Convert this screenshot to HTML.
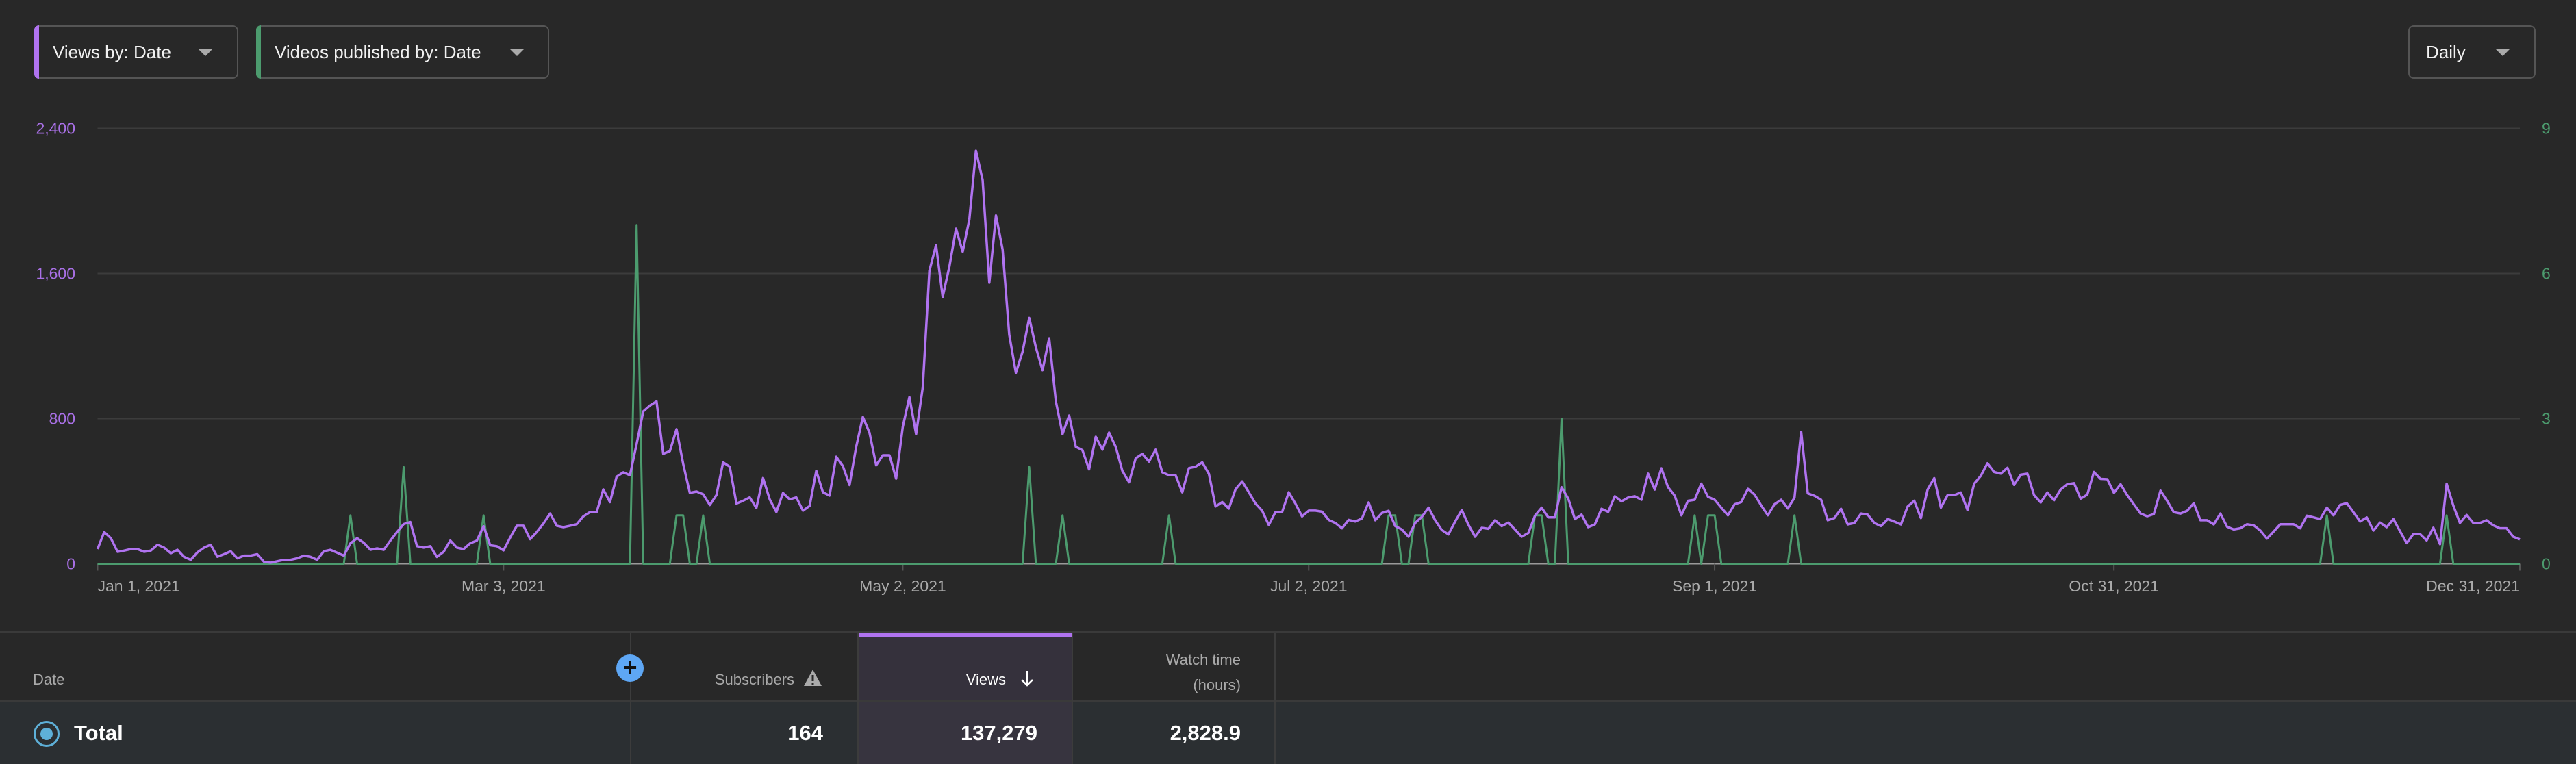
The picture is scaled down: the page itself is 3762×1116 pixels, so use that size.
<!DOCTYPE html>
<html><head><meta charset="utf-8"><style>
html,body{margin:0;padding:0;background:#282828;width:3762px;height:1116px;overflow:hidden;font-family:"Liberation Sans",sans-serif;}
.dd{position:absolute;top:37px;height:78px;border:2px solid #555;border-radius:8px;box-sizing:border-box;color:#f1f1f1;font-size:26px;line-height:74px;}
.dd .bar{position:absolute;left:-2px;top:-2px;bottom:-2px;width:7px;border-radius:8px 0 0 8px;}
.arr{position:absolute;top:32px;width:0;height:0;border-left:11px solid transparent;border-right:11px solid transparent;border-top:11px solid #aaa;}
.cell{position:absolute;box-sizing:border-box;}
.hd{color:#aaa;font-size:22px;position:absolute;}
.tv{color:#fff;font-size:31px;font-weight:bold;position:absolute;top:1053px;}
</style></head><body>
<div class="dd" style="left:50px;width:298px;"><div class="bar" style="background:#b073f0"></div><span style="position:absolute;left:25px">Views by: Date</span><div class="arr" style="left:237px"></div></div>
<div class="dd" style="left:374px;width:428px;"><div class="bar" style="background:#4c9b6e"></div><span style="position:absolute;left:25px">Videos published by: Date</span><div class="arr" style="left:368px"></div></div>
<div class="dd" style="left:3517px;width:186px;"><span style="position:absolute;left:24px">Daily</span><div class="arr" style="left:125px"></div></div>

<svg id="chart" width="3762" height="900" style="position:absolute;left:0;top:0" xmlns="http://www.w3.org/2000/svg"></svg>

<div class="cell" style="left:0;top:922px;width:3762px;height:3px;background:#3a3a3a"></div>
<div class="cell" style="left:1252px;top:925px;width:313px;height:98px;background:#35313c"></div>
<div class="cell" style="left:1252px;top:925px;width:313px;height:5px;background:#b073f0"></div>
<div class="cell" style="left:0;top:1022px;width:3762px;height:3px;background:#3a3a3a"></div>
<div class="cell" style="left:0;top:1025px;width:3762px;height:91px;background:#2b2f32"></div>
<div class="cell" style="left:1252px;top:1025px;width:313px;height:91px;background:#37343f"></div>
<div class="cell" style="left:920px;top:925px;width:2px;height:191px;background:#3c3c3c"></div>
<div class="cell" style="left:1252px;top:925px;width:2px;height:191px;background:#3c3c3c"></div>
<div class="cell" style="left:1565px;top:925px;width:2px;height:191px;background:#3c3c3c"></div>
<div class="cell" style="left:1861px;top:925px;width:2px;height:191px;background:#3c3c3c"></div>
<div class="hd" style="left:48px;top:980px">Date</div>
<div class="cell" style="left:900px;top:956px;width:40px;height:40px;border-radius:50%;background:#5ea7f5;color:#111;font-size:36px;font-weight:bold;line-height:38px;text-align:center">+</div>
<div class="hd" style="right:2602px;top:980px">Subscribers</div>
<svg style="position:absolute;left:1173px;top:977px" width="28" height="26"><polygon points="14,1 27,25 1,25" fill="#aaa"/><rect x="12.5" y="9" width="3" height="9" fill="#282828"/><rect x="12.5" y="20" width="3" height="3" fill="#282828"/></svg>
<div class="hd" style="right:2293px;top:980px;color:#fff">Views</div>
<svg style="position:absolute;left:1488px;top:978px" width="24" height="26"><line x1="12" y1="2" x2="12" y2="23" stroke="#fff" stroke-width="2.5"/><polyline points="4,15 12,23 20,15" fill="none" stroke="#fff" stroke-width="2.5"/></svg>
<div class="hd" style="right:1950px;top:945px;text-align:right;line-height:37px">Watch time<br>(hours)</div>
<div class="cell" style="left:49px;top:1053px;width:38px;height:38px;border-radius:50%;border:3px solid #5eb0d8;"><div style="position:absolute;left:7px;top:7px;width:18px;height:18px;border-radius:50%;background:#5eb0d8"></div></div>
<div class="tv" style="left:108px">Total</div>
<div class="tv" style="right:2560px">164</div>
<div class="tv" style="right:2247px">137,279</div>
<div class="tv" style="right:1950px">2,828.9</div>

<script>
const views = [81,175,141,66,73,81,81,66,73,105,89,58,77,38,22,63,89,105,39,53,69,30,45,45,53,11,6,14,22,22,30,45,38,22,69,77,61,45,113,141,116,77,85,77,128,175,219,230,97,89,97,38,66,128,89,81,113,128,207,102,97,74,144,210,210,136,175,222,277,210,202,210,218,261,285,285,410,340,480,504,488,660,840,872,895,606,621,742,551,391,398,383,324,379,559,535,332,347,366,308,473,355,285,390,355,366,293,319,512,394,376,590,538,434,645,809,723,543,598,598,469,754,919,715,973,1615,1756,1471,1638,1847,1720,1897,2277,2116,1549,1920,1732,1263,1052,1169,1355,1193,1067,1243,895,715,817,645,626,520,700,629,723,645,512,449,582,606,563,629,504,488,488,394,527,535,559,496,316,340,304,410,454,394,332,293,214,285,285,394,332,261,293,293,287,242,225,196,242,233,250,338,240,280,292,208,189,149,225,259,309,240,186,162,233,296,215,149,198,193,240,208,227,189,149,170,265,309,256,256,422,359,246,271,202,217,303,286,372,344,365,372,353,497,409,526,422,375,267,347,353,441,369,353,309,267,328,340,413,381,321,267,328,353,305,365,727,388,375,353,240,252,303,217,225,277,271,225,208,246,233,217,315,347,252,409,472,309,378,378,393,296,441,485,554,506,497,529,435,491,497,378,338,393,350,409,438,444,359,381,506,468,466,391,438,378,328,277,262,274,403,347,284,277,292,334,240,240,217,277,204,189,196,218,212,183,139,177,218,218,218,196,265,256,246,309,267,324,334,284,233,255,183,227,202,246,179,114,164,164,129,199,108,441,321,225,269,225,225,240,212,196,196,149,135];
const videoDays = [38,46,58,81,87,88,91,140,145,161,194,195,198,199,216,217,220,240,242,243,255,335,353];
const videoCounts = [1,2,1,7,1,1,1,2,1,1,1,1,1,1,1,1,3,1,1,1,1,1,1];
const leftTicks = [0,800,1600,2400];
const leftTickLabels = ["0","800","1,600","2,400"];
const rightTicks = [0,3,6,9];
const xTickDays = [0,61,121,182,243,303,364];
const xTickLabels = ["Jan 1, 2021","Mar 3, 2021","May 2, 2021","Jul 2, 2021","Sep 1, 2021","Oct 31, 2021","Dec 31, 2021"];

const X0=142.5, X1=3680, Y0=823.5, Y1=187.5;
const nDays = views.length;
const xs = d => X0 + (X1-X0)*d/(nDays-1);
const yL = v => Y0 - (Y0-Y1)*v/2400;
const yR = v => Y0 - (Y0-Y1)*v/9;
const svg = document.getElementById('chart');
const NS='http://www.w3.org/2000/svg';
function mk(tag, attrs){const e=document.createElementNS(NS,tag);for(const k in attrs)e.setAttribute(k,attrs[k]);svg.appendChild(e);return e;}

leftTicks.forEach((t,i)=>{
  const g=mk('line',{x1:X0,x2:X1,y1:yL(t),y2:yL(t),stroke:t===0?'#9a9a9a':'#3c3c3c','stroke-width':t===0?2:2});
  
  
  const l=mk('text',{x:110,y:yL(t)+8,'text-anchor':'end',fill:'#a970e6','font-size':23,'font-family':'Liberation Sans, sans-serif'});
  l.textContent=leftTickLabels[i];
  
  
});
rightTicks.forEach(t=>{
  const l=mk('text',{x:3712,y:yR(t)+8,fill:'#4c9b6e','font-size':23,'font-family':'Liberation Sans, sans-serif'});
  l.textContent=String(t);
  
  
});
xTickDays.forEach((d,i)=>{
  const x=xs(d);
  const tk=mk('line',{x1:x,x2:x,y1:Y0,y2:Y0+10,stroke:'#555','stroke-width':2});
  
  
  const anchor=i===0?'start':(i===xTickDays.length-1?'end':'middle');
  const l=mk('text',{x:x,y:864,'text-anchor':anchor,fill:'#aaa','font-size':23,'font-family':'Liberation Sans, sans-serif'});
  l.textContent=xTickLabels[i];
  
  
});
const vid=new Array(nDays).fill(0);
videoDays.forEach((d,i)=>{vid[d]=videoCounts[i];});
let gp='';vid.forEach((v,d)=>{gp+=(d?'L':'M')+xs(d).toFixed(1)+','+yR(v).toFixed(1);});
const gl=mk('path',{d:gp,fill:'none',stroke:'#4c9b6e','stroke-width':3,'stroke-linejoin':'round'});


let vp='';views.forEach((v,d)=>{vp+=(d?'L':'M')+xs(d).toFixed(1)+','+yL(v).toFixed(1);});
const vl=mk('path',{d:vp,fill:'none',stroke:'#b073f0','stroke-width':3.5,'stroke-linejoin':'round'});


</script>
</body></html>
